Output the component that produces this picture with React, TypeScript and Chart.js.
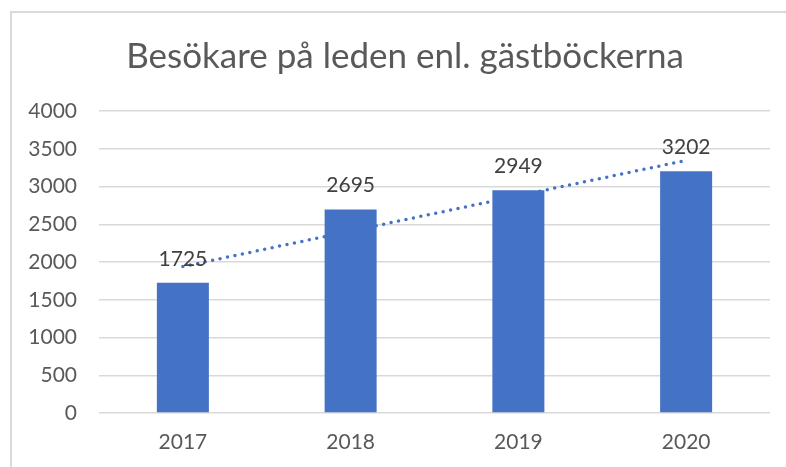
import React, { useEffect, useRef } from "react";
import { Chart, registerables } from "chart.js";

Chart.register(...registerables);

const categories = ["2017", "2018", "2019", "2020"];
const visitors = [1725, 2695, 2949, 3202];
const trendValues = [1940, 2409, 2877, 3346];
const titleText = "Besökare på leden enl. gästböckerna";
const yTicks = [0, 500, 1000, 1500, 2000, 2500, 3000, 3500, 4000];

const FONT = "Lato, 'Open Sans', sans-serif";

const dataLabelPlugin = {
  id: "dataLabels",
  afterDatasetsDraw(chart: any) {
    const ctx = chart.ctx;
    const meta = chart.getDatasetMeta(0);
    ctx.save();
    ctx.fillStyle = "#404040";
    ctx.font = `21px ${FONT}`;
    ctx.textAlign = "center";
    ctx.textBaseline = "middle";
    meta.data.forEach((bar: any, i: number) => {
      ctx.fillText(String(visitors[i]), bar.x, bar.y - 24);
    });
    ctx.restore();
  },
};

const titlePlugin = {
  id: "customTitle",
  afterDraw(chart: any) {
    const ctx = chart.ctx;
    ctx.save();
    ctx.fillStyle = "#595959";
    ctx.font = `35px ${FONT}`;
    ctx.textAlign = "center";
    ctx.textBaseline = "middle";
    ctx.fillText(titleText, 405, 57);
    ctx.restore();
  },
};

export default function App() {
  const ref = useRef<HTMLCanvasElement | null>(null);
  useEffect(() => {
    if (!ref.current) return;
    const chart = new Chart(ref.current, {
      type: "bar",
      data: {
        labels: categories,
        datasets: [
          {
            type: "bar",
            data: visitors,
            backgroundColor: "#4472C4",
            barPercentage: 0.31,
            categoryPercentage: 1,
            order: 1,
          },
          {
            type: "line",
            data: trendValues,
            borderColor: "#4472C4",
            borderWidth: 3.5,
            borderDash: [0, 7.6],
            borderCapStyle: "round",
            pointRadius: 0,
            fill: false,
            tension: 0,
            order: 0,
          } as any,
        ],
      },
      options: {
        animation: false,
        responsive: false,
        layout: { padding: { left: 0, right: 16, top: 111, bottom: 0 } },
        plugins: {
          legend: { display: false },
          tooltip: { enabled: false },
          title: { display: false },
        },
        scales: {
          x: {
            grid: { display: false, drawTicks: false },
            border: { display: false },
            ticks: { color: "#595959", font: { family: FONT, size: 21 }, padding: 17 },
            afterFit: (s: any) => {
              s.height = 54;
            },
          },
          y: {
            min: 0,
            max: 4000,
            afterBuildTicks: (s: any) => {
              s.ticks = yTicks.map((v) => ({ value: v }));
            },
            grid: { color: "#d9d9d9", lineWidth: 1.5, drawTicks: false },
            border: { display: false },
            ticks: {
              color: "#595959",
              font: { family: FONT, size: 21 },
              padding: 22,
              callback: (v: any) => String(v),
            },
            afterFit: (s: any) => {
              s.width = 99;
            },
          },
        },
      },
      plugins: [dataLabelPlugin, titlePlugin],
    });
    return () => chart.destroy();
  }, []);
  return (
    <div style={{ position: "fixed", left: 0, top: 0, width: 786, height: 467, background: "#fff", overflow: "hidden" }}>
      <div
        style={{
          position: "absolute",
          left: 10,
          top: 11,
          width: 800,
          height: 480,
          border: "2px solid #d9d9d9",
          boxSizing: "border-box",
        }}
      />
      <canvas ref={ref} width={786} height={467} style={{ position: "absolute", left: 0, top: 0 }} />
    </div>
  );
}
